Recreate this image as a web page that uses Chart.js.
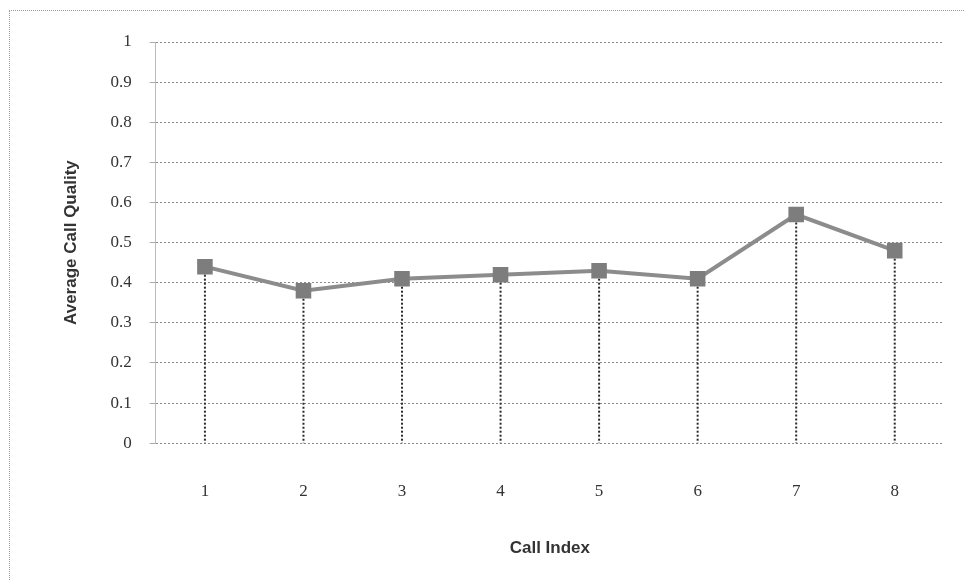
<!DOCTYPE html>
<html>
<head>
<meta charset="utf-8">
<script src="https://cdn.jsdelivr.net/npm/chart.js@4"></script>
<style>
  html, body { margin: 0; padding: 0; background: #fff; }
  #wrap { position: relative; width: 964px; height: 580px; }
  #frame { position: absolute; left: 9px; top: 10px; right: -4px; bottom: -4px; border-left: 1px dotted #999; border-top: 1px dotted #999; }
</style>
</head>
<body>
<div id="wrap">
  <div id="frame"></div>
  <canvas id="chart" width="964" height="580"></canvas>
</div>
<script>
// data
const callIndex = ['1', '2', '3', '4', '5', '6', '7', '8'];
const avgQuality = [0.44, 0.38, 0.41, 0.42, 0.43, 0.41, 0.57, 0.48];
const yTicks = [0, 0.1, 0.2, 0.3, 0.4, 0.5, 0.6, 0.7, 0.8, 0.9, 1];

const labelFont = "'Liberation Serif', 'DejaVu Serif', serif";
const titleFont = "'Liberation Sans Narrow', 'Liberation Sans', sans-serif";

// dotted drop lines from each point down to the x axis
const dropLines = {
  id: 'dropLines',
  beforeDatasetsDraw(chart) {
    const ctx = chart.ctx;
    const meta = chart.getDatasetMeta(0);
    const yZero = chart.scales.y.getPixelForValue(0);
    ctx.save();
    ctx.strokeStyle = '#2b2b2b';
    ctx.lineWidth = 2;
    ctx.setLineDash([2, 2]);
    meta.data.forEach(pt => {
      ctx.beginPath();
      ctx.moveTo(pt.x, pt.y);
      ctx.lineTo(pt.x, yZero);
      ctx.stroke();
    });
    ctx.restore();
  }
};

const ctx = document.getElementById('chart');
new Chart(ctx, {
  type: 'line',
  data: {
    labels: callIndex,
    datasets: [{
      label: 'Average Call Quality',
      data: avgQuality,
      borderColor: '#8c8c8c',
      borderWidth: 4,
      backgroundColor: '#7d7d7d',
      pointStyle: 'rect',
      pointRadius: 11,
      pointBorderWidth: 0,
      tension: 0
    }]
  },
  options: {
    responsive: false,
    animation: false,
    layout: { padding: { left: 57, top: 42, right: 20, bottom: 17 } },
    plugins: { legend: { display: false }, tooltip: { enabled: false } },
    scales: {
      x: {
        offset: true,
        grid: { display: false },
        border: { display: false },
        ticks: { color: '#333', padding: 30, font: { family: labelFont, size: 17 } },
        title: { display: true, text: 'Call Index', color: '#333', padding: { top: 7 }, font: { family: titleFont, size: 17, weight: 'bold' } }
      },
      y: {
        min: 0,
        max: 1,
        afterBuildTicks(axis) { axis.ticks = yTicks.map(v => ({ value: v })); },
        grid: { color: '#8a8a8a', lineWidth: 1, tickLength: 6, tickColor: '#aaa' },
        border: { color: '#bbb', dash: [2, 2] },
        ticks: { color: '#333', padding: 18, font: { family: labelFont, size: 17 }, callback: v => String(v) },
        title: { display: true, text: 'Average Call Quality', color: '#333', padding: { bottom: 11 }, font: { family: titleFont, size: 17, weight: 'bold' } }
      }
    }
  },
  plugins: [dropLines, {
    id: 'dottedGrid',
    beforeDraw(chart) {
      chart.options.scales.y.grid.borderDash = [2, 2];
    }
  }]
});
</script>
</body>
</html>
